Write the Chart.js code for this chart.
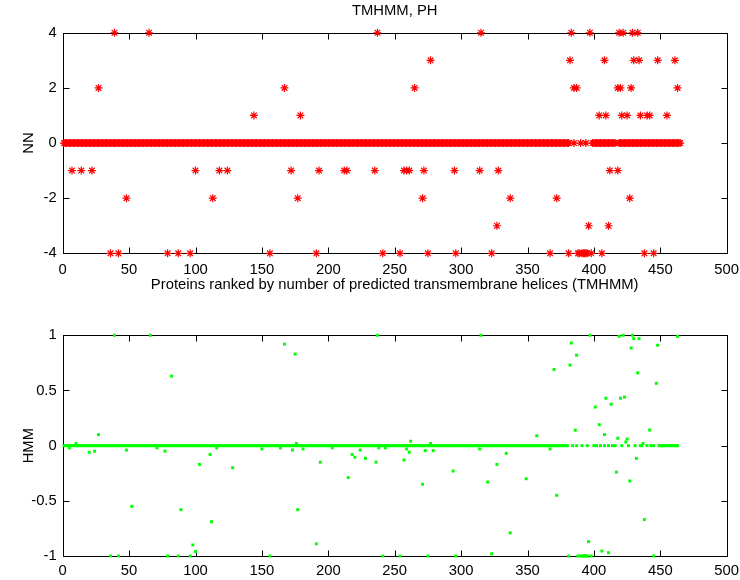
<!DOCTYPE html>
<html>
<head>
<meta charset="utf-8">
<script src="https://cdn.jsdelivr.net/npm/chart.js@4/dist/chart.umd.min.js"></script>
<style>
  html, body { margin: 0; padding: 0; background: #fff; }
  #wrap { position: relative; width: 740px; height: 580px; }
  canvas { position: absolute; left: 0; }
  #nn { top: 0; }
  #hmm { top: 300px; }
</style>
</head>
<body>
<div id="wrap">
  <canvas id="nn" width="740" height="300"></canvas>
  <canvas id="hmm" width="740" height="280"></canvas>
</div>
<script>
// protein rank axis
const xTicks = [0, 50, 100, 150, 200, 250, 300, 350, 400, 450, 500];

// NN (top): proteins whose value is 0, as rank ranges
const nnZeroRanges = [[1, 381], [385, 385], [390, 390], [394, 394], [399, 416], [419, 465]];
// NN non-zero values
const nnX = [39, 65, 237, 315, 383, 397, 419, 422, 429, 433,
  277, 382, 408, 430, 434, 448, 461,
  27, 167, 265, 385, 387, 418, 420, 428, 463,
  144, 179, 404, 409, 421, 425, 435, 440, 442, 455,
  7, 14, 22, 100, 118, 124, 172, 193, 212, 214, 235, 257, 259, 261, 272, 295, 314, 328, 412, 418,
  48, 113, 177, 271, 337, 372, 427,
  327, 396, 411,
  36, 42, 79, 87, 96, 156, 191, 241, 254, 275, 296, 323, 367, 381, 388, 389, 391, 392, 393, 394, 395, 398, 406, 438, 445];
const nnY = [4, 4, 4, 4, 4, 4, 4, 4, 4, 4,
  3, 3, 3, 3, 3, 3, 3,
  2, 2, 2, 2, 2, 2, 2, 2, 2,
  1, 1, 1, 1, 1, 1, 1, 1, 1, 1,
  -1, -1, -1, -1, -1, -1, -1, -1, -1, -1, -1, -1, -1, -1, -1, -1, -1, -1, -1, -1,
  -2, -2, -2, -2, -2, -2, -2,
  -3, -3, -3,
  -4, -4, -4, -4, -4, -4, -4, -4, -4, -4, -4, -4, -4, -4, -4, -4, -4, -4, -4, -4, -4, -4, -4, -4, -4];
const nnTicks = [-4, -2, 0, 2, 4];

// HMM (bottom): proteins whose value is 0
const hmmZeroRanges = [[1, 380], [384, 384], [387, 387], [391, 391], [395, 395], [400, 400], [402, 402],
  [405, 405], [408, 408], [411, 411], [414, 414], [416, 416], [421, 421], [426, 426], [431, 431],
  [435, 436], [440, 440], [443, 443], [445, 445], [449, 463]];
// HMM non-zero values
const hmmX = [39, 66, 82, 27, 10, 5, 20, 24, 48, 71, 77, 103, 111, 116, 128, 52, 89, 112, 98, 100,
  36, 42, 79, 87, 96,
  237, 167, 175, 176, 177, 150, 164, 173, 181, 203, 194, 218, 220, 224, 228, 236, 238, 243, 215, 257, 259, 261, 191,
  156, 241, 254,
  315, 262, 277, 273, 279, 314, 294, 271, 320, 327, 323,
  275, 296,
  397, 383, 387, 382, 370, 409, 401, 404, 386, 408, 357, 367, 334, 349, 372, 337, 396, 406, 411,
  381, 388, 389, 391, 392, 393, 394, 395, 398,
  419, 422, 429, 430, 434, 463, 428, 448, 433, 447, 420, 423, 413, 418, 425, 424, 442, 437, 432, 417, 427, 438, 445];
const hmmY = [1.0, 1.0, 0.63, 0.10, 0.02, -0.02, -0.06, -0.05, -0.04, -0.02, -0.05, -0.17, -0.08, -0.02, -0.20, -0.55, -0.58, -0.69, -0.90, -0.96,
  -1, -1, -1, -1, -1,
  1.0, 0.92, 0.83, 0.02, -0.58, -0.03, -0.02, -0.04, -0.03, -0.02, -0.15, -0.08, -0.105, -0.04, -0.115, -0.15, -0.02, -0.02, -0.29, -0.13, -0.03, -0.06, -0.89,
  -1, -1, -1,
  1.0, 0.04, 0.02, -0.045, -0.045, -0.03, -0.23, -0.35, -0.33, -0.17, -0.98,
  -1, -1,
  1.0, 0.93, 0.82, 0.73, 0.69, 0.43, 0.35, 0.19, 0.14, 0.10, 0.09, -0.03, -0.07, -0.30, -0.45, -0.79, -0.87, -0.955, -0.97,
  -1, -1, -1, -1, -1, -1, -1, -1, -1,
  0.99, 1.0, 1.0, 0.97, 0.97, 0.99, 0.885, 0.91, 0.66, 0.565, 0.43, 0.44, 0.375, 0.067, 0.06, 0.033, 0.142, 0.02, -0.115, -0.24, -0.32, -0.67, -1.0];
const hmmTicks = [-1, -0.5, 0, 0.5, 1];

function points(zeroRanges, xs, ys) {
    const pts = [];
    zeroRanges.forEach(([a, b]) => {
        for (let i = a; i <= b; i++) pts.push({ x: i, y: 0 });
    });
    xs.forEach((x, i) => pts.push({ x, y: ys[i] }));
    return pts;
}

Chart.defaults.font.family = '"Liberation Sans", Arial, Helvetica, sans-serif';
Chart.defaults.font.size = 14.8;
Chart.defaults.color = '#000';

// matlab style box with inward ticks on all sides
const frame = {
    id: 'frame',
    beforeDatasetsDraw(chart) {
        const { ctx, chartArea: a, scales } = chart;
        const l = Math.round(a.left) + 0.5, r = Math.round(a.right) + 0.5;
        const t = Math.round(a.top) + 0.5, b = Math.round(a.bottom) + 0.5;
        const len = 6;
        ctx.save();
        ctx.strokeStyle = '#000';
        ctx.lineWidth = 1;
        ctx.beginPath();
        scales.x.ticks.forEach((tk) => {
            const px = Math.round(scales.x.getPixelForValue(tk.value)) + 0.5;
            ctx.moveTo(px, b); ctx.lineTo(px, b - len);
            ctx.moveTo(px, t); ctx.lineTo(px, t + len);
        });
        scales.y.ticks.forEach((tk) => {
            const py = Math.round(scales.y.getPixelForValue(tk.value)) + 0.5;
            ctx.moveTo(l, py); ctx.lineTo(l + len, py);
            ctx.moveTo(r, py); ctx.lineTo(r - len, py);
        });
        ctx.stroke();
        ctx.strokeRect(l, t, r - l, b - t);
        ctx.restore();
    },
};

function makeChart(id, opts) {
    return new Chart(document.getElementById(id), {
        type: 'scatter',
        data: {
            datasets: [{
                data: opts.data,
                pointStyle: opts.pointStyle,
                pointRadius: opts.radius,
                borderColor: opts.color,
                backgroundColor: opts.color,
                borderWidth: opts.borderWidth,
                clip: false,
            }],
        },
        options: {
            responsive: false,
            animation: false,
            events: [],
            layout: { padding: { top: opts.padTop, right: 13.3, bottom: 0, left: 0 } },
            plugins: {
                legend: { display: false },
                tooltip: { enabled: false },
                title: {
                    display: !!opts.title,
                    text: opts.title,
                    fullSize: false,
                    font: { weight: 'normal' },
                    padding: { top: 2, bottom: 13 },
                },
            },
            scales: {
                x: {
                    type: 'linear',
                    min: 0,
                    max: 500,
                    afterBuildTicks: (s) => { s.ticks = xTicks.map((v) => ({ value: v })); },
                    grid: { display: false, drawTicks: false },
                    border: { display: false },
                    ticks: { padding: opts.xPad, maxRotation: 0, callback: (v) => String(v) },
                    title: { display: !!opts.xTitle, text: opts.xTitle, padding: { top: 0, bottom: 6.5 } },
                    afterFit: (s) => {
                        s.height = opts.xHeight;
                        // let the end labels hang past the axes like matlab does
                        s.paddingLeft = 0;
                        s.paddingRight = 0;
                    },
                },
                y: {
                    type: 'linear',
                    min: opts.yTicks[0],
                    max: opts.yTicks[opts.yTicks.length - 1],
                    afterBuildTicks: (s) => { s.ticks = opts.yTicks.map((v) => ({ value: v })); },
                    grid: { display: false, drawTicks: false },
                    border: { display: false },
                    ticks: { padding: 6, callback: (v) => String(v) },
                    title: { display: true, text: opts.yTitle, padding: { top: 20, bottom: 0 } },
                    afterFit: (s) => {
                        s.width = 62.7;
                        s.paddingTop = 0;
                        s.paddingBottom = 0;
                    },
                },
            },
        },
        plugins: [frame],
    });
}

makeChart('nn', {
    data: points(nnZeroRanges, nnX, nnY),
    pointStyle: 'star',
    radius: 4,
    borderWidth: 1.2,
    color: '#ff0000',
    yTicks: nnTicks,
    yTitle: 'NN',
    title: 'TMHMM, PH',
    xTitle: 'Proteins ranked by number of predicted transmembrane helices (TMHMM)',
    padTop: 0,
    xHeight: 46.7,
    xPad: 7.5,
});

makeChart('hmm', {
    data: points(hmmZeroRanges, hmmX, hmmY),
    pointStyle: 'rect',
    radius: 2.1,
    borderWidth: 0,
    color: '#00ff00',
    yTicks: hmmTicks,
    yTitle: 'HMM',
    title: '',
    xTitle: '',
    padTop: 35.3,
    xHeight: 24,
    xPad: 6.5,
});
</script>
</body>
</html>
